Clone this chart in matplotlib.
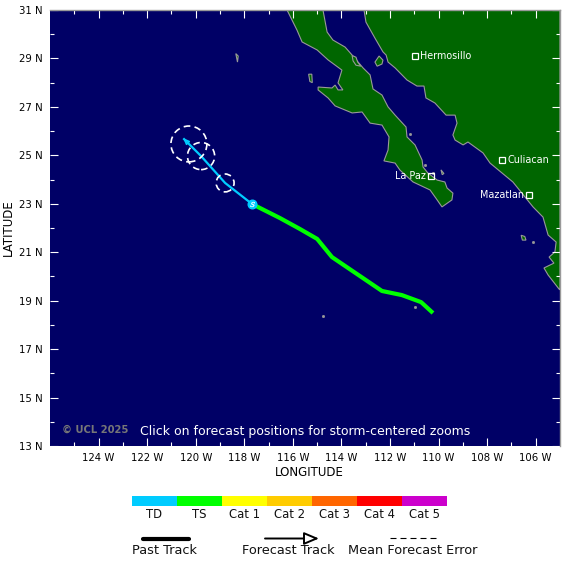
import matplotlib
matplotlib.use("Agg")
import matplotlib.pyplot as plt
from matplotlib.patches import Circle, Polygon, Rectangle
from matplotlib.markers import MarkerStyle
from matplotlib.path import Path
from matplotlib.transforms import Affine2D

plt.rcParams['font.family'] = ['DejaVu Sans']

# ---- data (degrees) ----
mainland_lon = [-113.07,-112.99,-112.62,-112.29,-112.16,-112.08,-111.79,-111.30,-110.89,-110.60,-110.52,-110.15,-109.69,-109.32,-109.24,-109.41,-109.32,-108.99,-108.79,-108.17,-107.88,-106.94,-106.11,-105.70,-105.49,-105.16,-105.21,-105.45,-105.25,-105.66,-105.49,-105.04,-105.0,-105.0]
mainland_lat = [31.0,30.50,29.84,29.27,29.14,28.85,28.61,28.11,27.86,27.86,27.37,27.16,26.66,26.66,26.33,25.84,25.63,25.43,25.55,25.10,24.68,23.90,22.87,22.45,21.71,21.42,21.01,20.80,20.55,20.35,20.06,19.48,19.45,31.0]
baja_lon = [-114.76,-114.59,-114.35,-113.85,-113.56,-113.11,-112.82,-112.70,-112.33,-112.08,-111.79,-111.34,-111.30,-110.97,-110.68,-110.64,-110.44,-110.06,-109.74,-109.65,-109.41,-109.45,-109.86,-110.06,-110.35,-111.05,-111.59,-111.79,-112.25,-112.08,-112.04,-112.33,-112.82,-113.15,-113.56,-114.26,-114.55,-114.96,-114.96,-114.39,-114.26,-114.14,-113.94,-114.14,-113.98,-114.55,-115.00,-115.62,-115.83,-116.24]
baja_lat = [31.0,30.09,29.76,29.47,29.14,28.61,28.32,27.74,27.49,27.00,26.66,26.17,25.76,25.43,24.81,24.52,24.27,23.98,23.90,23.65,23.44,23.16,22.87,23.16,23.57,23.90,24.39,24.68,24.77,25.22,25.76,26.25,26.33,26.79,26.75,27.04,27.37,27.70,27.82,27.78,27.90,27.70,27.70,27.99,28.52,28.94,29.35,29.68,30.17,31.0]
angel_lon = [-113.56,-113.40,-113.33,-113.20,-113.40,-113.52]
angel_lat = [29.12,29.05,28.85,28.68,28.72,28.90]
tiburon_lon = [-112.45,-112.29,-112.33,-112.53,-112.62]
tiburon_lat = [29.10,28.93,28.77,28.68,28.85]
cedros_lon = [-115.35,-115.22,-115.20,-115.30]
cedros_lat = [28.35,28.35,28.00,28.05]
guadalupe_lon = [-118.35,-118.25,-118.28]
guadalupe_lat = [29.20,29.10,28.85]
marias_lon = [-106.60,-106.45,-106.40,-106.55]
marias_lat = [21.70,21.65,21.50,21.50]
cerralvo_lon = [-109.90,-109.78,-109.85]
cerralvo_lat = [24.40,24.25,24.20]
rock_lon = [-110.97,-114.76,-111.17,-110.22,-106.12,-110.55]
rock_lat = [18.74,18.37,25.88,24.27,21.42,24.60]

past_lon = [-110.23,-110.72,-111.51,-112.33,-114.39,-115.00,-115.71,-116.53,-117.68]
past_lat = [18.49,18.94,19.23,19.40,20.80,21.55,21.96,22.41,22.99]
fcst_lon = [-117.68,-118.79,-119.78,-120.28,-120.48]
fcst_lat = [22.99,23.86,24.97,25.47,25.67]
err_lon = [-118.79,-119.78,-120.28]
err_lat = [23.86,24.97,25.47]
err_rad = [0.37,0.56,0.74]

cities = ["Hermosillo","Culiacan","La Paz","Mazatlan"]
city_lon = [-110.97,-107.37,-110.30,-106.27]
city_lat = [29.10,24.81,24.15,23.36]
city_side = ["right","right","left","left"]

cat_labels = ["TD","TS","Cat 1","Cat 2","Cat 3","Cat 4","Cat 5"]
cat_colors = ["#00ccff","#00ff00","#ffff00","#ffcc00","#ff6600","#ff0000","#cc00cc"]

lon_major = list(range(-124,-105,2))
lat_major = list(range(13,32,2))

W, H = 580, 566
fig = plt.figure(figsize=(W/100, H/100), dpi=100, facecolor="white")
ax = fig.add_axes([50/W, 1-446/H, 510/W, 436/H], facecolor="#000066")
ax.set_xlim(-126,-105)
ax.set_ylim(13,31)

# land
for lo, la in [(mainland_lon,mainland_lat),(baja_lon,baja_lat),(angel_lon,angel_lat),
               (tiburon_lon,tiburon_lat),(cedros_lon,cedros_lat),(guadalupe_lon,guadalupe_lat),
               (marias_lon,marias_lat),(cerralvo_lon,cerralvo_lat)]:
    ax.add_patch(Polygon(list(zip(lo,la)), closed=True, fc="#006600", ec="#999999", lw=0.8, zorder=1))
ax.plot(rock_lon, rock_lat, ls="none", marker="s", ms=1.0, color="#999999", zorder=1)

# ticks
ax.set_xticks(lon_major)
ax.set_xticklabels([f"{-v} W" for v in lon_major], fontsize=7.3)
ax.set_yticks(lat_major)
ax.set_yticklabels([f"{v} N" for v in lat_major], fontsize=7.3)
ax.set_xticks(range(-125,-105,2), minor=True)
ax.set_yticks(range(14,31,2), minor=True)
ax.tick_params(which="major", direction="in", length=5.8, width=0.8, color="white", top=True, right=True, pad=5, zorder=6)
ax.tick_params(which="minor", direction="in", length=3.2, width=0.8, color="white", top=True, right=True, zorder=6)
for s in ax.spines.values():
    s.set_visible(False)
for s in ("top","right"):
    ax.spines[s].set_visible(True)
    ax.spines[s].set_color("#999999")
    ax.spines[s].set_linewidth(1.0)
ax.set_xlabel("LONGITUDE", fontsize=8.5, labelpad=2, x=0.508)
ax.set_ylabel("LATITUDE", fontsize=8.5, labelpad=3)

# cities
for name, lo, la, side in zip(cities, city_lon, city_lat, city_side):
    ax.plot([lo],[la], marker="s", ms=4.6, mfc="none", mec="white", mew=0.9, zorder=4)
    if side == "right":
        ax.annotate(name,(lo,la),xytext=(3.8,0),textcoords="offset points",color="white",fontsize=6.9,va="center",ha="left",zorder=4)
    else:
        ax.annotate(name,(lo,la),xytext=(-3.6,0),textcoords="offset points",color="white",fontsize=6.9,va="center",ha="right",zorder=4)

# tracks
ax.plot(past_lon, past_lat, color="#00ff00", lw=3.0, solid_capstyle="butt", zorder=3)
ax.plot(fcst_lon, fcst_lat, color="#00ccff", lw=1.6, zorder=4)
head = Path([(0,0),(-0.42,-1),(0.42,-1),(0,0)], closed=True)
ax.plot([fcst_lon[-1]],[fcst_lat[-1]], ls="none",
        marker=MarkerStyle(head, transform=Affine2D().rotate_deg(45)),
        ms=7, mfc="none", mec="#00ccff", mew=1.1, zorder=5)
for lo, la, r in zip(err_lon, err_lat, err_rad):
    ax.add_patch(Circle((lo,la), r, fc="none", ec="white", lw=1.2, ls=(0,(4,2.6)), zorder=5))
ax.plot([fcst_lon[0]],[fcst_lat[0]], marker="o", ms=6.2, mfc="#00ccff", mec="#00ccff", zorder=6)
ax.plot([fcst_lon[0]],[fcst_lat[0]], marker="$\\mathcal{S}$", ms=3.6, mfc="white", mec="white", mew=0.2, zorder=7)

ax.text(0.024,0.026,"© UCL 2025",transform=ax.transAxes,color="#777777",fontsize=7.2,fontweight="bold",va="bottom",ha="left",zorder=6)
ax.text(0.5,0.018,"Click on forecast positions for storm-centered zooms",transform=ax.transAxes,color="white",fontsize=9.0,va="bottom",ha="center",zorder=6)

# legend in page pixels
lg = fig.add_axes([0,0,1,1], facecolor="none")
lg.set_xlim(0,W); lg.set_ylim(H,0); lg.axis("off")
bw = 45
for i,(c,t) in enumerate(zip(cat_colors,cat_labels)):
    lg.add_patch(Rectangle((132+i*bw,496),bw,10,fc=c,ec="none"))
    lg.text(132+i*bw+bw/2,514,t,ha="center",va="center",fontsize=8.4,color="#111111")
lg.plot([143,189],[538.5,538.5],color="black",lw=3.0,solid_capstyle="round")
lg.text(165,551,"Past Track",ha="center",va="center",fontsize=9.3,color="#111111")
lg.annotate("",xy=(319,538.5),xytext=(265,538.5),
            arrowprops=dict(arrowstyle="-|>,head_length=0.9,head_width=0.38",color="black",fc="white",lw=1.4,shrinkA=0,shrinkB=0))
lg.text(288.5,551,"Forecast Track",ha="center",va="center",fontsize=9.3,color="#111111")
lg.plot([390,436],[538,538],color="black",lw=0.8,ls=(0,(5.4,3.6)))
lg.text(413,551,"Mean Forecast Error",ha="center",va="center",fontsize=9.3,color="#111111")

fig.savefig("out.png", dpi=100)
